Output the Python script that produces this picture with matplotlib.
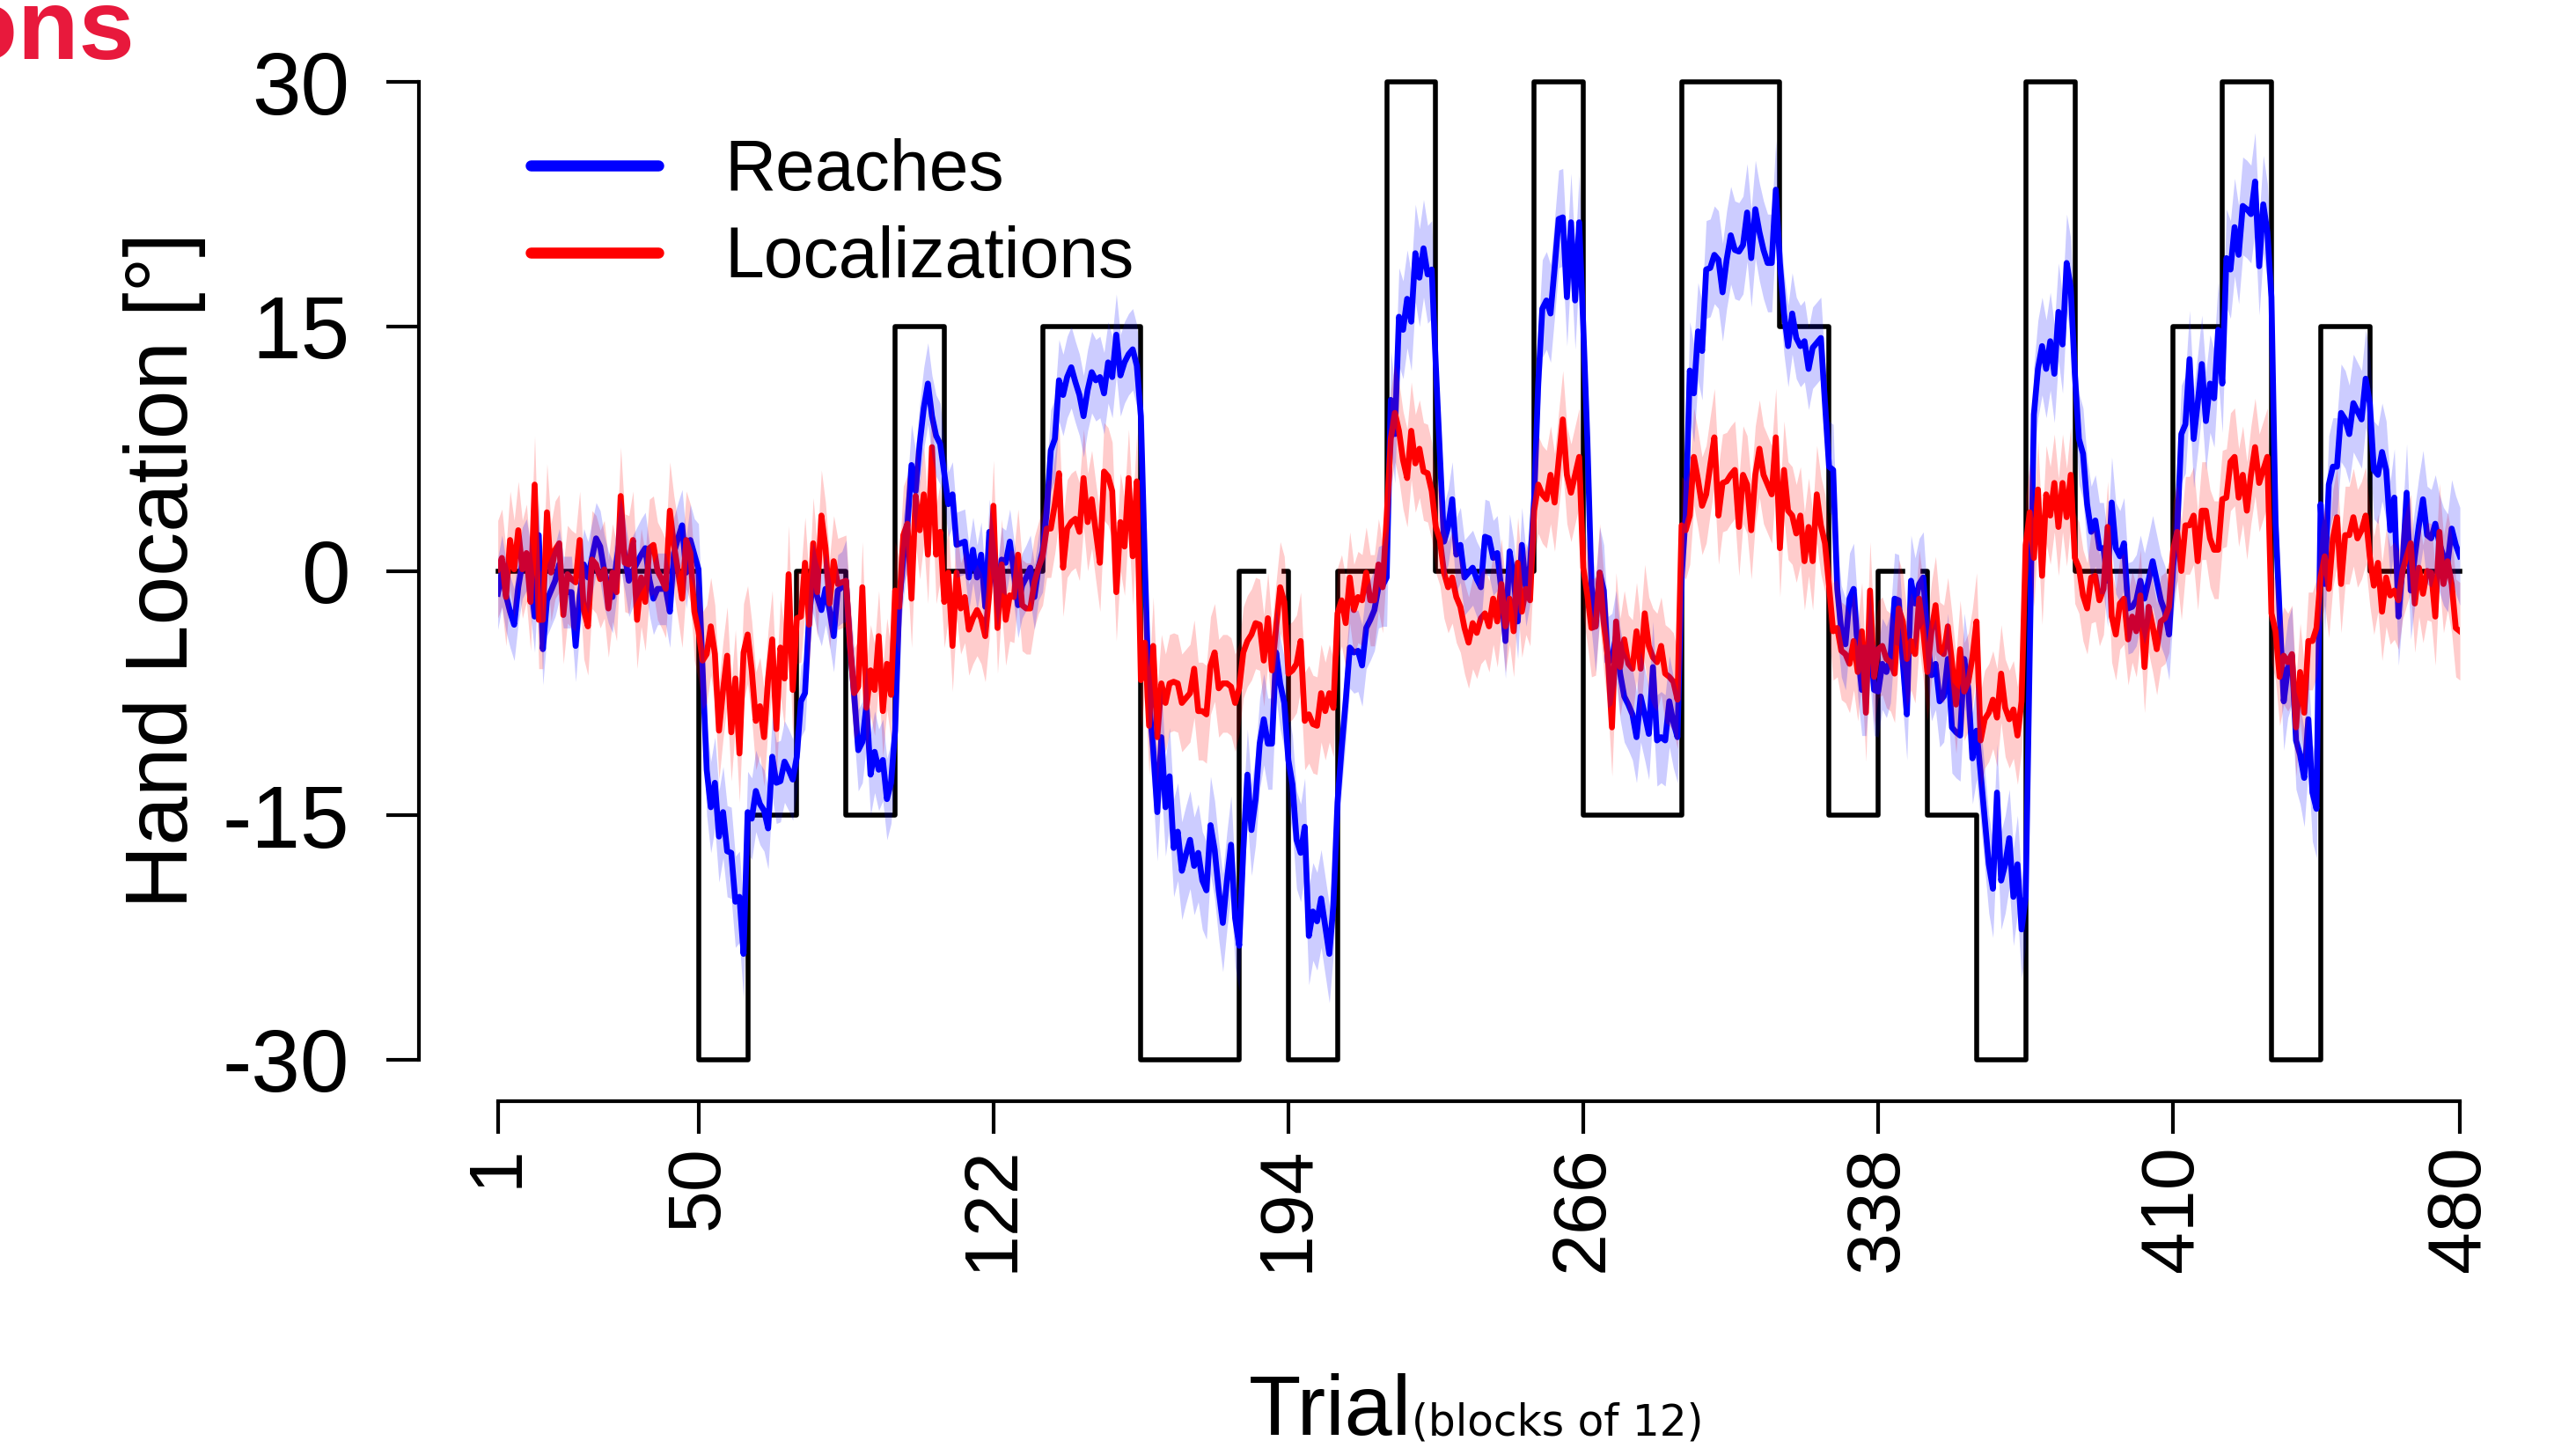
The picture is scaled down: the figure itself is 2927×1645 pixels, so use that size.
import numpy as np
import matplotlib.pyplot as plt
from matplotlib.lines import Line2D

# %% data ---------------------------------------------------------------
# perturbation schedule: segment edges (trials) and rotation per segment
schedule_edges = [1, 50, 62, 74, 86, 98, 110, 134, 158, 182, 194, 206, 218, 230,
                  254, 266, 290, 314, 326, 338, 350, 362, 374, 386, 410, 422,
                  434, 446, 458, 480]
schedule_values = [0, -30, -15, 0, -15, 15, 0, 15, -30, 0, -30, 0, 30, 0,
                   30, -15, 30, 15, -15, 0, -15, -30, 30, 0, 15, 30, -30, 15, 0]
# stretches of the schedule line that are not drawn
schedule_gaps = [(188, 193), (344, 349), (404, 409)]

# mean hand location per trial (deg)
reaches = [
    -1.4, 0.0, -1.5, -2.5, -3.3, -1.0, 0.5, 1.0, -0.5, -2.8,
    2.2, -4.8, -1.8, -1.2, -0.6, 0.4, -1.3, -1.3, -1.3, -4.6,
    -1.5, 0.4, -0.4, 0.8, 2.0, 1.5, 0.0, -1.0, -1.6, 0.6,
    2.3, 1.0, -0.6, 0.0, 0.5, 1.0, 1.4, -0.5, -1.7, -1.1,
    -1.1, -1.1, -2.5, 1.1, 2.0, 2.8, -0.1, 1.9, 1.0, 0.1,
    -6.1, -12.2, -14.5, -13.0, -16.3, -14.8, -17.2, -17.3, -20.3, -20.0,
    -23.5, -14.8, -15.2, -13.5, -14.3, -14.7, -15.8, -11.4, -13.0, -12.9,
    -11.7, -12.2, -12.8, -11.4, -8.0, -7.5, -2.8, -0.4, -1.6, -2.4,
    -1.1, -2.4, -4.0, -1.2, -1.0, -0.6, -4.7, -7.6, -11.0, -10.5,
    -8.2, -12.5, -11.1, -12.2, -11.6, -14.0, -13.0, -9.8, -2.0, 0.8,
    2.8, 6.5, 4.9, 7.8, 10.0, 11.5, 9.5, 8.3, 7.8, 6.0,
    4.1, 4.7, 1.6, 1.7, 1.8, -0.4, 1.3, -0.4, 1.0, -2.2,
    2.4, 0.5, -1.5, 0.7, 0.5, 1.8, -0.1, -2.1, -0.9, -0.4,
    0.2, -1.6, 0.2, 1.2, 3.6, 7.4, 8.1, 11.7, 10.8, 11.9,
    12.5, 11.6, 10.8, 9.5, 11.1, 12.2, 11.7, 11.9, 10.9, 12.8,
    11.9, 14.5, 12.0, 12.8, 13.3, 13.6, 12.6, 9.5, 0.2, -8.1,
    -10.9, -14.8, -10.2, -14.5, -12.6, -17.0, -16.0, -18.4, -17.4, -16.5,
    -18.1, -17.3, -19.0, -19.6, -15.6, -17.1, -19.6, -21.6, -19.0, -16.8,
    -21.3, -23.0, -17.1, -12.5, -15.9, -14.0, -10.6, -9.1, -10.6, -10.6,
    -5.0, -6.9, -8.1, -11.6, -13.1, -16.5, -17.3, -15.7, -22.4, -20.9,
    -21.5, -20.1, -21.8, -23.5, -20.5, -14.2, -10.9, -8.0, -4.7, -5.0,
    -4.9, -5.8, -3.5, -3.0, -2.4, -1.0, -0.9, -0.4, 10.5, 8.4,
    15.6, 14.8, 16.7, 15.3, 19.5, 18.0, 19.8, 18.2, 18.5, 12.6,
    7.1, 1.8, 2.7, 4.4, 1.0, 1.6, -0.4, -0.1, 0.2, -0.5,
    -1.0, 2.1, 2.0, 0.8, 1.1, -1.2, -4.3, 1.2, -0.4, -3.1,
    1.6, -1.1, 0.3, 4.4, 11.5, 16.1, 16.6, 15.8, 18.6, 21.6,
    21.7, 16.8, 21.4, 16.6, 21.4, 15.0, 8.0, -0.9, -3.4, -0.1,
    -1.2, -5.6, -5.4, -4.0, -6.3, -7.7, -8.2, -8.8, -10.2, -7.7,
    -8.8, -10.0, -5.9, -10.4, -10.2, -10.4, -8.0, -9.3, -10.2, -0.3,
    3.4, 12.3, 10.9, 14.7, 13.5, 18.5, 18.6, 19.4, 19.1, 17.1,
    19.1, 20.6, 19.7, 19.6, 20.0, 22.0, 19.2, 22.2, 20.8, 19.7,
    18.9, 18.9, 23.4, 18.9, 15.8, 13.8, 15.8, 14.3, 13.8, 14.1,
    12.4, 13.7, 14.0, 14.3, 10.3, 6.4, 6.2, -1.1, -3.7, -4.5,
    -1.7, -1.1, -4.9, -7.3, -7.3, -4.0, -7.3, -7.4, -5.7, -6.2,
    -5.3, -1.7, -1.8, -5.6, -8.8, -0.6, -2.0, -0.8, -0.4, -4.2,
    -6.4, -5.7, -8.0, -7.7, -5.4, -9.6, -9.9, -10.1, -5.4, -7.3,
    -11.5, -9.8, -12.4, -15.2, -18.0, -19.5, -13.6, -19.0, -18.0, -16.4,
    -20.0, -18.0, -22.0, -20.0, -4.9, 9.6, 12.4, 13.8, 12.4, 14.1,
    12.1, 15.9, 13.9, 18.9, 17.4, 12.1, 8.1, 7.2, 4.1, 2.4,
    3.1, 1.4, 1.4, -0.6, 4.2, 1.4, 0.9, 1.7, -2.3, -2.2,
    -1.8, -0.6, -1.7, -0.6, 0.6, -0.6, -1.8, -2.5, -3.9, 0.3,
    2.5, 8.4, 9.0, 13.0, 8.1, 10.3, 12.7, 9.2, 11.5, 10.6,
    14.8, 11.5, 19.2, 18.5, 21.1, 19.4, 22.4, 22.2, 21.9, 23.9,
    18.7, 22.5, 20.8, 16.8, 3.0, -2.7, -8.0, -6.0, -5.2, -10.4,
    -11.3, -12.7, -9.1, -13.6, -14.6, 4.1, -0.8, 5.3, 6.4, 6.4,
    9.7, 9.3, 8.4, 10.3, 9.8, 9.3, 11.8, 10.3, 6.2, 5.9,
    7.3, 6.2, 2.5, 4.5, -2.8, 0.3, 4.8, -1.2, 0.9, 2.8,
    4.4, 2.2, 2.0, 2.9, 1.7, 0.9, 0.5, 2.6, 1.6, 0.9,
]

localizations = [
    0.1, 0.8, -1.6, 1.9, 0.1, 2.5, 0.1, 1.1, -1.9, 5.3,
    -3.0, -3.0, 3.6, -0.1, 1.3, 1.7, -2.7, -0.2, -0.5, -0.7,
    1.9, -2.4, -3.4, 0.7, 0.4, -0.5, 0.1, -2.3, -0.1, -1.3,
    4.6, 0.5, 0.4, 1.9, -3.0, -0.4, -1.9, 1.4, 1.6, 0.0,
    -0.5, -1.1, 3.7, 1.6, 0.0, -1.7, 1.9, 1.1, -2.5, -3.7,
    -5.5, -5.1, -3.4, -5.1, -9.8, -7.3, -5.2, -9.9, -6.6, -11.2,
    -5.0, -3.9, -6.1, -9.2, -8.3, -10.2, -6.6, -4.2, -9.7, -4.7,
    -6.6, -0.2, -7.3, -2.9, -2.8, 0.5, -3.3, 1.7, -1.3, 3.4,
    1.4, -2.0, 0.6, -0.8, -0.7, -0.6, -4.6, -7.5, -7.1, -1.0,
    -8.4, -6.1, -7.3, -4.0, -8.6, -5.7, -7.6, -1.2, -2.2, 2.2,
    2.9, -1.7, 4.6, 2.5, 4.7, 1.0, 7.6, 1.0, 2.4, -1.9,
    -0.1, -4.6, -0.1, -2.3, -1.6, -3.6, -2.9, -2.4, -2.9, -4.0,
    -1.3, 4.0, -3.5, 0.4, -3.0, -1.5, -1.6, 1.0, -2.1, -2.3,
    -2.3, -0.7, 0.2, 0.9, 2.6, 2.6, 4.1, 6.0, 0.2, 2.6,
    3.0, 3.2, 2.4, 5.7, 3.0, 4.4, 2.4, 0.5, 6.1, 5.8,
    4.9, -1.3, 3.0, 1.5, 5.7, 0.9, 5.5, -6.7, -4.4, -9.5,
    -4.6, -10.2, -6.9, -8.1, -6.9, -6.8, -6.9, -8.1, -7.8, -7.5,
    -6.0, -8.6, -8.6, -8.8, -5.8, -5.0, -7.2, -6.9, -6.9, -7.1,
    -8.1, -7.2, -5.0, -4.3, -3.9, -3.2, -3.3, -5.5, -2.9, -6.1,
    -3.5, -1.0, -1.9, -6.3, -6.1, -5.7, -4.3, -9.2, -8.8, -9.4,
    -9.5, -7.5, -8.6, -7.5, -8.4, -2.6, -1.8, -3.2, -0.4, -2.4,
    -1.6, -1.8, -0.1, -1.8, -1.8, 0.4, -1.0, 3.3, 8.1, 9.7,
    8.6, 6.8, 5.7, 8.6, 6.6, 7.5, 6.1, 6.0, 4.9, 2.7,
    1.9, -0.1, -1.0, -0.4, -1.6, -2.2, -3.5, -4.4, -3.2, -3.8,
    -2.9, -2.6, -3.4, -1.7, -3.1, -0.8, -3.4, -1.7, -3.7, 0.5,
    -2.5, -1.1, -1.8, 3.7, 5.3, 4.7, 4.4, 5.9, 4.2, 6.8,
    9.3, 5.9, 4.8, 5.9, 7.0, 0.2, -1.5, -3.5, -3.4, -0.1,
    -3.2, -5.3, -9.6, -3.1, -5.9, -4.2, -5.7, -6.0, -3.7, -6.0,
    -2.6, -4.6, -5.3, -5.6, -4.6, -6.3, -6.5, -6.8, -7.9, 2.8,
    2.5, 3.4, 7.0, 5.6, 4.0, 4.7, 6.5, 8.2, 3.4, 5.4,
    5.5, 5.9, 6.2, 2.7, 5.9, 5.3, 2.5, 5.9, 7.5, 5.9,
    5.3, 4.7, 8.2, 1.4, 6.2, 3.7, 3.4, 2.3, 3.4, 0.6,
    2.7, 0.6, 4.7, 2.8, 1.7, -0.9, -3.7, -3.5, -4.9, -5.1,
    -5.7, -4.3, -6.2, -3.7, -8.7, -1.2, -6.5, -4.8, -4.6, -5.4,
    -5.6, -6.3, -2.3, -3.1, -5.4, -4.3, -5.1, -1.7, -3.7, -6.2,
    -3.7, -2.1, -4.9, -5.1, -3.4, -5.6, -8.2, -4.8, -7.4, -6.8,
    -5.3, -3.1, -10.4, -9.1, -8.7, -7.9, -9.0, -6.3, -8.4, -9.1,
    -8.5, -10.1, -8.0, 1.6, 3.6, 0.8, 5.0, -0.3, 4.7, 3.4,
    5.4, 2.7, 5.4, 3.3, 5.9, 0.8, 0.2, -1.5, -2.3, -0.4,
    -0.3, -1.8, -1.1, 2.7, -2.8, -3.9, -2.0, -1.7, -4.2, -2.8,
    -3.7, -1.5, -5.9, -2.2, -3.4, -4.8, -3.1, -2.9, -2.2, 1.3,
    2.4, 0.0, 2.8, 2.8, 3.4, 0.6, 3.7, 3.7, 2.0, 1.3,
    1.3, 4.4, 4.5, 6.7, 7.0, 4.5, 5.9, 3.7, 5.9, 7.6,
    5.4, 6.2, 7.0, -2.6, -3.7, -6.5, -5.2, -5.6, -5.1, -9.6,
    -6.2, -8.7, -4.3, -4.3, -3.5, -0.4, 0.9, -1.1, 2.0, 3.3,
    -0.8, 2.2, 2.2, 3.3, 2.0, 2.5, 3.4, 0.9, -0.9, 0.5,
    -2.5, -0.4, -1.5, -1.2, -1.8, 0.0, 0.9, 1.7, -2.0, 0.2,
    -1.4, 0.0, -0.1, -2.8, 2.4, -0.8, 0.6, -0.8, -3.5, -3.7,
]

# half width of the confidence band, per schedule segment (deg)
reach_ci = [2.2, 2.8, 2.5, 2.2, 2.5, 2.5, 2.0, 2.5, 3.0, 2.8, 3.0, 2.5, 3.0, 2.3,
            3.0, 2.8, 3.0, 2.5, 2.8, 2.8, 2.8, 3.0, 3.0, 2.8, 3.0, 3.0, 3.0, 3.0, 3.0]
local_ci = [3.0, 3.0, 3.0, 2.8, 2.8, 3.0, 2.8, 3.0, 3.0, 2.8, 3.0, 2.8, 3.0, 2.8,
            3.0, 3.0, 3.0, 3.0, 3.0, 3.0, 3.0, 3.0, 3.0, 2.8, 3.0, 3.0, 3.0, 3.0, 3.0]

x_ticks = [1, 50, 122, 194, 266, 338, 410, 480]
y_ticks = [-30, -15, 0, 15, 30]

# %% plot ---------------------------------------------------------------
plt.rcParams['font.family'] = ['Liberation Sans', 'DejaVu Sans']

trials = np.arange(1, len(reaches) + 1)
reaches = np.array(reaches)
localizations = np.array(localizations)
seg = np.searchsorted(schedule_edges[1:-1], trials, side='right')
r_hw = np.array(reach_ci)[seg]
l_hw = np.array(local_ci)[seg]

# schedule as one path, with breaks where it is not drawn
sx, sy = [], []
for i, v in enumerate(schedule_values):
    a, b = schedule_edges[i], schedule_edges[i + 1]
    sx.append(a); sy.append(v)
    for g0, g1 in schedule_gaps:
        if a < g0 < b:
            sx += [g0, np.nan, g1]; sy += [v, np.nan, v]
    sx.append(b); sy.append(v)

fig = plt.figure(figsize=(14.635, 8.225), dpi=200)
ax = fig.add_axes([0.19324, 0.26809, 0.76168, 0.67520])

ax.plot(sx, sy, color='black', lw=2.0, zorder=1, clip_on=False)
ax.plot(trials, reaches, color='#0000FF', lw=2.4, zorder=2)
ax.fill_between(trials, localizations - l_hw, localizations + l_hw,
                color='#FF0000', alpha=0.2, lw=0, zorder=3)
ax.plot(trials, localizations, color='#FF0000', lw=2.4, zorder=4)
ax.fill_between(trials, reaches - r_hw, reaches + r_hw,
                color='#0000FF', alpha=0.2, lw=0, zorder=5)

ax.set_xlim(1, 480)
ax.set_ylim(-30, 30)

for s in ['top', 'right']:
    ax.spines[s].set_visible(False)
ax.spines['left'].set_position(('outward', 32.3))
ax.spines['bottom'].set_position(('outward', 16.8))
ax.spines['left'].set_bounds(-30, 30)
ax.spines['bottom'].set_bounds(1, 480)
ax.spines['left'].set_linewidth(1.5)
ax.spines['bottom'].set_linewidth(1.5)

ax.set_yticks(y_ticks)
ax.set_yticklabels([str(t) for t in y_ticks])
ax.set_xticks(x_ticks)
ax.set_xticklabels([str(t) for t in x_ticks], rotation=90)
ax.tick_params(axis='y', length=13.3, width=1.5, labelsize=36, pad=15)
ax.tick_params(axis='x', length=13.3, width=1.5, labelsize=31, pad=5)

handles = [Line2D([], [], color='#0000FF', lw=4.5, solid_capstyle='round'),
           Line2D([], [], color='#FF0000', lw=4.5, solid_capstyle='round')]
ax.legend(handles, ['Reaches', 'Localizations'], loc='upper left',
          bbox_to_anchor=(0.206, 0.9046), bbox_transform=fig.transFigure,
          frameon=False, fontsize=29, handlelength=1.8, handletextpad=0.94,
          labelspacing=0.29, borderpad=0, borderaxespad=0)

fig.text(0.0638, 0.606, 'Hand Location [°]', rotation=90, ha='center',
         va='center', fontsize=36)
fig.text(0.0523, 0.959, 'Localizations', ha='right', va='baseline',
         fontsize=41, fontweight='bold', color='#E8193C')

t1 = fig.text(0.4848, 0.0091, 'Trial', fontsize=35, va='baseline')
fig.canvas.draw()
x_end = t1.get_window_extent().x1 / fig.bbox.width
fig.text(x_end, 0.0091, '(blocks of 12)', fontsize=17.5, va='baseline',
         family='DejaVu Sans')

fig.savefig('out.png', dpi=200)
